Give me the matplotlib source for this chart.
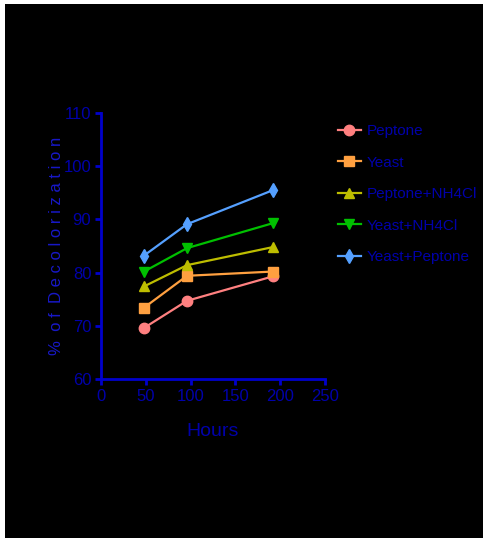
import matplotlib
matplotlib.use('Agg')
import matplotlib.pyplot as plt
from matplotlib.patches import Rectangle

plt.rcParams['font.family'] = ['Liberation Sans', 'DejaVu Sans']

# data
hours = [48, 96, 192]
series_names = ['Peptone', 'Yeast', 'Peptone+NH4Cl', 'Yeast+NH4Cl', 'Yeast+Peptone']
peptone = [69.6, 74.7, 79.3]
yeast = [73.4, 79.4, 80.2]
peptone_nh4cl = [77.4, 81.4, 84.8]
yeast_nh4cl = [80.2, 84.6, 89.3]
yeast_peptone = [83.2, 89.1, 95.5]

colors = ['#FF8080', '#FFA040', '#BDBD00', '#00C000', '#55A0FF']
markers = ['o', 's', '^', 'v', 'd']
txt_col = '#0000AA'
ax_col = '#0000CC'

fig = plt.figure(figsize=(4.88, 5.40), dpi=100)
fig.patch.set_facecolor('white')
fig.patches.append(Rectangle((5 / 488, 2 / 540), 478 / 488, 534 / 540,
                             transform=fig.transFigure, facecolor='black',
                             edgecolor='none', zorder=-10))

# axes box: x 101..325 px, y 113..379 px
ax = fig.add_axes([101 / 488, 1 - 379 / 540, 224 / 488, 266 / 540])
ax.set_facecolor('black')

for name, vals, c, m in zip(series_names,
                            [peptone, yeast, peptone_nh4cl, yeast_nh4cl, yeast_peptone],
                            colors, markers):
    ax.plot(hours, vals, color=c, marker=m, markersize=7.5, linewidth=1.6,
            label=name, clip_on=False)

ax.set_xlim(0, 250)
ax.set_ylim(60, 110)
ax.set_xticks([0, 50, 100, 150, 200, 250])
ax.set_yticks([60, 70, 80, 90, 100, 110])

for s in ['top', 'right']:
    ax.spines[s].set_visible(False)
for s in ['left', 'bottom']:
    ax.spines[s].set_color(ax_col)
    ax.spines[s].set_linewidth(2)
ax.tick_params(colors=ax_col, width=2, length=4, direction='out',
               labelcolor=txt_col, labelsize=12, pad=3)

ax.set_xlabel('Hours', color=txt_col, fontsize=14, labelpad=14)
fig.text(57 / 488, 1 - 246 / 540, '%  o f  D e c o l o r i z a t i o n',
         rotation=90, ha='center', va='center', color='#1818C8', fontsize=12)

leg = ax.legend(loc='upper left', bbox_to_anchor=(338 / 488, 1 - 124 / 540),
                bbox_transform=fig.transFigure, frameon=False,
                handlelength=1.5, handletextpad=0.35, labelspacing=1.15,
                fontsize=11, borderaxespad=0, borderpad=0)
for t in leg.get_texts():
    t.set_color(txt_col)

fig.savefig('out.png', dpi=100, facecolor=fig.get_facecolor())
